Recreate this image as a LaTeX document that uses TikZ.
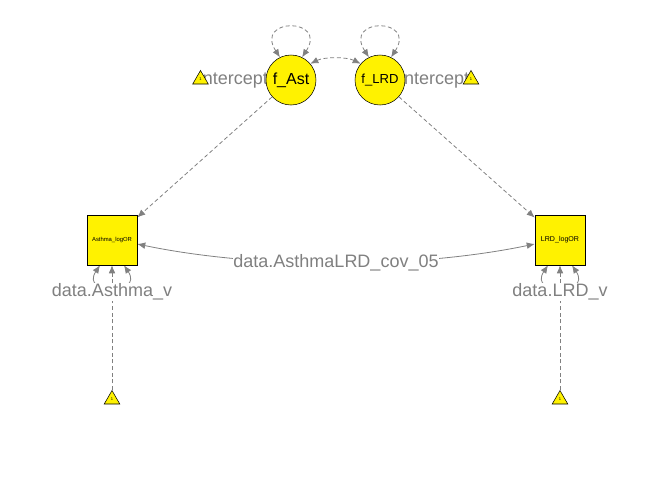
\documentclass[tikz,border=0pt]{standalone}
\usepackage{fontspec}
\setmainfont{Liberation Sans}
\usepackage{xcolor}
\usetikzlibrary{shapes,arrows.meta,positioning}
\pgfdeclarelayer{edges}
\pgfsetlayers{edges,main}
\definecolor{semgray}{gray}{0.5}

\begin{document}
\begin{tikzpicture}[x=0.75pt, y=-0.75pt,
  latent/.style={circle, draw, fill=yellow, minimum size=37.5pt, inner sep=0pt},
  manifest/.style={rectangle, draw, fill=yellow, minimum size=37.5pt, inner sep=0pt},
  const/.style={regular polygon, regular polygon sides=3, draw, fill=yellow, minimum size=13.5pt, inner sep=0pt, font=\fontsize{3}{3}\selectfont},
  line/.style={draw, semgray, line width=0.6pt, -{Latex[length=6pt,width=5pt]}},
  dashline/.style={line, dash pattern=on 3pt off 2pt},
  twoway/.style={line, {Latex[length=6pt,width=5pt]}-{Latex[length=6pt,width=5pt]}},
  elabel/.style={text=semgray, fill=white, inner sep=0.5pt, font=\fontsize{13.5}{14}\selectfont}]

  \useasboundingbox (0,0) rectangle (672,480);

  \node [latent, font=\fontsize{12}{12}\selectfont] (fAst) at (291,80) {f\_Ast};
  \node [latent, font=\fontsize{9.8}{10}\selectfont] (fLRD) at (380,80) {f\_LRD};
  \node [const] (intAst) at (200.5,79.5) {1};
  \node [const] (intLRD) at (471,79.5) {1};
  \node [manifest, font=\fontsize{4.4}{5}\selectfont] (asthma) at (112,240) {Asthma\_logOR};
  \node [manifest, font=\fontsize{5.3}{6}\selectfont] (lrd) at (560,240) {LRD\_logOR};
  \node [const] (intAsthma) at (112,399.5) {1};
  \node [const] (intLrd) at (560,399.5) {1};

  \begin{pgfonlayer}{edges}
  % latent means
  \path (intAst) -- (fAst) node [elabel, fill=none, pos=0.45] {Intercept};
  \path (fLRD) -- (intLRD) node [elabel, fill=none, pos=0.48] {Intercept};
  % latent variances and covariance
  \draw [twoway, dash pattern=on 3pt off 2pt] (fAst.116) .. controls +(-26,-40) and +(26,-40) .. (fAst.64);
  \draw [twoway, dash pattern=on 3pt off 2pt] (fLRD.116) .. controls +(-26,-40) and +(26,-40) .. (fLRD.64);
  \draw [twoway, dash pattern=on 3pt off 2pt] (fAst.40) .. controls +(14,-7) and +(-14,-7) .. (fLRD.140);
  % loadings
  \draw [dashline] (fAst) -- (asthma);
  \draw [dashline] (fLRD) -- (lrd);
  % intercepts
  \draw [dashline] (intAsthma) -- (asthma);
  \draw [dashline] (intLrd) -- (lrd);
  % residual variances
  \draw [twoway] ([xshift=-9pt]asthma.south) .. controls +(-20,30) and +(20,30) .. ([xshift=9pt]asthma.south)
    node [elabel, pos=0.5, yshift=-3pt] {data.Asthma\_v};
  \draw [twoway] ([xshift=-9pt]lrd.south) .. controls +(-20,30) and +(20,30) .. ([xshift=9pt]lrd.south)
    node [elabel, pos=0.5, yshift=-3pt] {data.LRD\_v};
  \draw [twoway] ([yshift=-3pt]asthma.east) .. controls +(120,25) and +(-120,25) .. ([yshift=-3pt]lrd.west)
    node [elabel, pos=0.5] {data.AsthmaLRD\_cov\_05};
  \end{pgfonlayer}
\end{tikzpicture}
\end{document}
